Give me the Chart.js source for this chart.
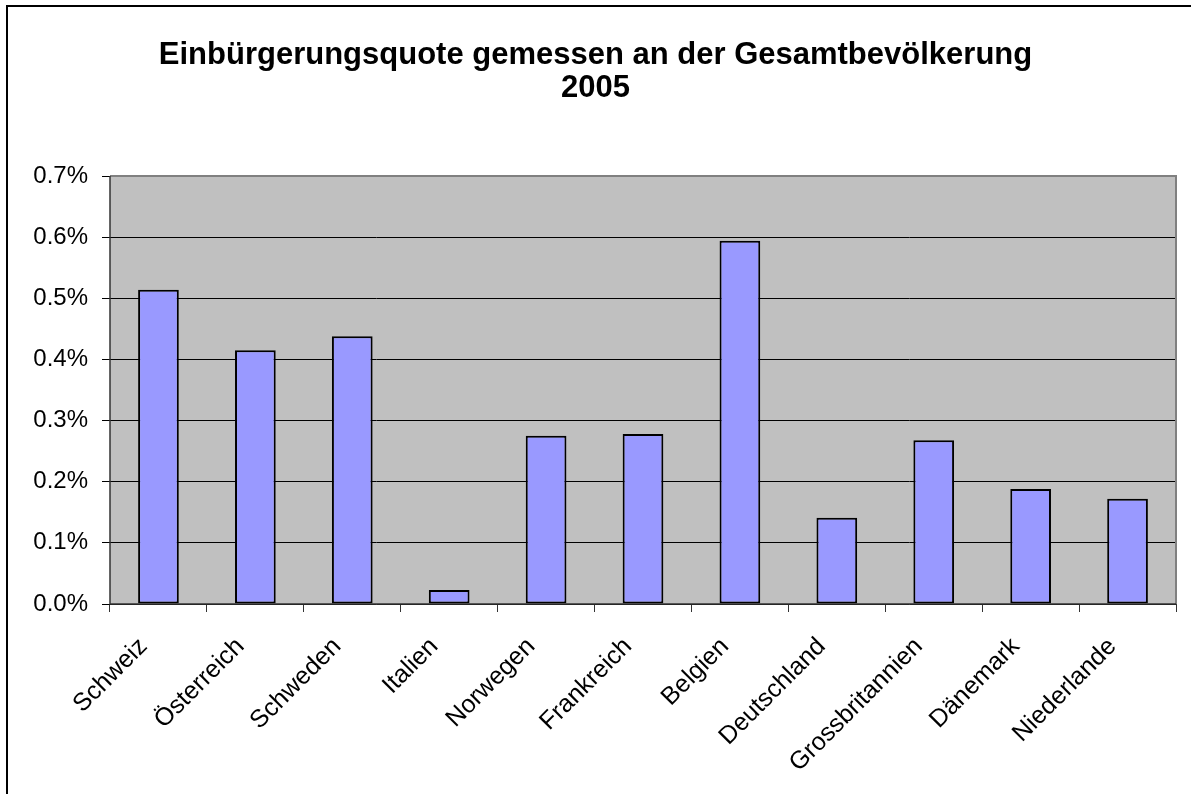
<!DOCTYPE html>
<html><head><meta charset="utf-8">
<script src="https://cdn.jsdelivr.net/npm/chart.js@4.4.0/dist/chart.umd.min.js"></script>
<style>html,body{margin:0;padding:0;background:#fff;overflow:hidden}</style>
</head><body>
<canvas id="c" width="1191" height="794"></canvas>
<script>
const categories = ['Schweiz','Österreich','Schweden','Italien','Norwegen','Frankreich','Belgien','Deutschland','Grossbritannien','Dänemark','Niederlande'];
const quotaPercent = [0.514, 0.415, 0.438, 0.023, 0.275, 0.278, 0.594, 0.141, 0.268, 0.188, 0.172];
const yMin = 0, yMax = 0.7, yStep = 0.1;
const titleLines = ['Einbürgerungsquote gemessen an der Gesamtbevölkerung', '2005'];

const FONT = "'Liberation Sans', Arial, sans-serif";

const bgPlugin = {
  id: 'bg',
  afterLayout(chart) {
    const t = chart.titleBlock;
    if (t) { t.left = 0; t.right = chart.width; t.width = chart.width; }
  },
  beforeDraw(chart) {
    const {ctx, chartArea: a} = chart;
    ctx.save();
    ctx.fillStyle = '#fff';
    ctx.fillRect(0, 0, chart.width, chart.height);
    ctx.fillStyle = '#C0C0C0';
    ctx.fillRect(a.left, a.top, a.right - a.left, a.bottom - a.top);
    ctx.restore();
  },
  afterDraw(chart) {
    const {ctx, chartArea: a} = chart;
    ctx.save();
    ctx.strokeStyle = '#808080';
    ctx.lineWidth = 2;
    ctx.beginPath();
    ctx.moveTo(a.left, a.top);
    ctx.lineTo(a.right, a.top);
    ctx.lineTo(a.right, a.bottom);
    ctx.stroke();
    ctx.strokeStyle = '#333';
    ctx.lineWidth = 1.5;
    ctx.beginPath();
    ctx.moveTo(a.left, a.top);
    ctx.lineTo(a.left, a.bottom);
    ctx.lineTo(a.right, a.bottom);
    ctx.stroke();
    ctx.strokeStyle = '#000';
    ctx.lineWidth = 2;
    ctx.beginPath();
    ctx.moveTo(7, chart.height + 2);
    ctx.lineTo(7, 6);
    ctx.lineTo(chart.width + 2, 6);
    ctx.stroke();
    ctx.restore();
  }
};

new Chart(document.getElementById('c'), {
  type: 'bar',
  data: {
    labels: categories,
    datasets: [{
      data: quotaPercent,
      backgroundColor: '#9999FF',
      borderColor: '#000',
      borderWidth: 2,
      borderSkipped: false,
      barPercentage: 0.42,
      categoryPercentage: 1.0
    }]
  },
  options: {
    responsive: false,
    animation: false,
    layout: {padding: {left: 0, right: 15, top: 0, bottom: 0}},
    plugins: {
      legend: {display: false},
      tooltip: {enabled: false},
      title: {
        display: true,
        text: titleLines,
        color: '#000',
        font: {family: FONT, size: 31, weight: 'bold', lineHeight: 1.065},
        padding: {top: 39, bottom: 71}
      }
    },
    scales: {
      x: {
        grid: {display: true, offset: true, drawOnChartArea: false, drawTicks: true, tickLength: 8, color: '#333', lineWidth: 1},
        border: {display: false},
        ticks: {color: '#000', font: {family: FONT, size: 25}, minRotation: 45, maxRotation: 45, autoSkip: false, padding: 20, labelOffset: -15},
        afterFit(s) { s.height = 190; }
      },
      y: {
        min: yMin, max: yMax,
        grid: {color: '#000', lineWidth: 1, drawTicks: true, tickLength: 8},
        border: {display: false},
        ticks: {stepSize: yStep, color: '#000', font: {family: FONT, size: 24}, padding: 14,
          callback: v => v.toFixed(1) + '%'},
        afterFit(s) { s.width = 110; }
      }
    }
  },
  plugins: [bgPlugin]
});
</script>
</body></html>
